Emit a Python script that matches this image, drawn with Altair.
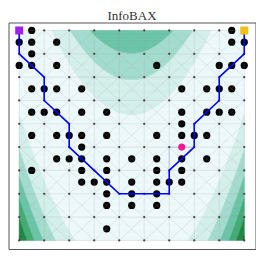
import numpy as np
import pandas as pd
import altair as alt

TITLE = "InfoBAX"
N_NODES = 10                      # 10 x 10 grid graph
X_LIM = (-2.0, 2.0)
Y_LIM = (-1.0, 4.0)

# filled-contour levels of the cost surface and their BuGn band colours
CONTOUR_LEVELS = [400, 800, 1200, 1600, 2000, 2400]
BAND_COLORS = ["#edf8fb", "#d3efeb", "#a0dbcd", "#66c2a4", "#3da96f", "#19823e", "#005b25"]

# queried edges, in half-grid indices (col 0..18 left->right, row 0..18 top->bottom)
QUERY_COLS_BY_ROW = {
    0: [1, 17],
    1: [0, 1, 3, 17, 18],
    2: [1],
    3: [0, 1, 3, 11, 16, 17, 18],
    5: [1, 2, 3, 5, 13, 15, 16, 17],
    7: [1, 2, 3, 5, 7, 13, 15, 16, 17],
    8: [13],
    9: [1, 3, 4, 5, 7, 11, 13, 14, 15],
    10: [5],
    11: [3, 4, 5, 7, 9, 11, 13, 15],
    12: [1, 5, 7, 11, 13],
    13: [5, 6, 7, 9, 11, 12, 13],
    14: [7, 9, 11],
    15: [7, 9, 11],
    17: [7],
}

# estimated shortest path, node indices (col, row from top)
PATH_COLS = [0, 0, 1, 1, 2, 2, 3, 4, 5, 6, 6, 7, 7, 8, 8, 9, 9]
PATH_ROWS = [0, 1, 2, 3, 4, 5, 6, 7, 7, 7, 6, 5, 4, 3, 2, 1, 0]

START_NODE = (0, 0)
GOAL_NODE = (9, 0)
NEXT_QUERY = (13, 10)             # half-grid index
HIGHLIGHT_EDGES = [((6, 5), (7, 5)), ((6, 5), (6, 6))]

START_COLOR = "#a020f0"
GOAL_COLOR = "#f2be1a"
NEXT_COLOR = "#ff1493"
PATH_COLOR = "#0000ff"


def node_x(i):
    return X_LIM[0] + (X_LIM[1] - X_LIM[0]) * i / (N_NODES - 1)


def node_y(j):
    return Y_LIM[1] - (Y_LIM[1] - Y_LIM[0]) * j / (N_NODES - 1)


def cost(x, y):
    return (1 - x) ** 2 + 100 * (y - x ** 2) ** 2


# ---- contour bands (row-wise runs of equal band) ----
NY, NX = 240, 1000
y_edges = np.linspace(Y_LIM[0], Y_LIM[1], NY + 1)
x_edges = np.linspace(X_LIM[0], X_LIM[1], NX + 1)
x_cent = 0.5 * (x_edges[:-1] + x_edges[1:])
rows = []
for k in range(NY):
    yc = 0.5 * (y_edges[k] + y_edges[k + 1])
    band = np.digitize(cost(x_cent, yc), CONTOUR_LEVELS)
    start = 0
    for i in range(1, NX + 1):
        if i == NX or band[i] != band[start]:
            rows.append(dict(x0=x_edges[start], x1=x_edges[i],
                             y0=y_edges[k], y1=y_edges[k + 1], band=int(band[start])))
            start = i
contour_df = pd.DataFrame(rows)

# ---- graph edges ----
edges = []
for i in range(N_NODES):
    for j in range(N_NODES):
        if i + 1 < N_NODES:
            edges.append((i, j, i + 1, j))
        if j + 1 < N_NODES:
            edges.append((i, j, i, j + 1))
        if i + 1 < N_NODES and j + 1 < N_NODES:
            edges.append((i, j, i + 1, j + 1))
            edges.append((i + 1, j, i, j + 1))
edge_df = pd.DataFrame([dict(x=node_x(a), y=node_y(b), x2=node_x(c), y2=node_y(d))
                        for a, b, c, d in edges])

node_df = pd.DataFrame([dict(x=node_x(i), y=node_y(j))
                        for i in range(N_NODES) for j in range(N_NODES)])

query_df = pd.DataFrame([dict(x=node_x(c / 2), y=node_y(r / 2))
                         for r, cols in QUERY_COLS_BY_ROW.items() for c in cols])

path_df = pd.DataFrame(dict(x=[node_x(c) for c in PATH_COLS],
                            y=[node_y(r) for r in PATH_ROWS],
                            k=list(range(len(PATH_COLS)))))

hl_df = pd.DataFrame([dict(x=node_x(a[0]), y=node_y(a[1]), x2=node_x(b[0]), y2=node_y(b[1]))
                      for a, b in HIGHLIGHT_EDGES])

next_df = pd.DataFrame([dict(x=node_x(NEXT_QUERY[0] / 2), y=node_y(NEXT_QUERY[1] / 2))])
start_df = pd.DataFrame([dict(x=node_x(START_NODE[0]), y=node_y(START_NODE[1]))])
goal_df = pd.DataFrame([dict(x=node_x(GOAL_NODE[0]), y=node_y(GOAL_NODE[1]))])

# ---- layout ----
W, H = 247.0, 226.5
xmin, xmax = -2.19, 2.2
ymin, ymax = -1.204, 4.19
xs = alt.Scale(domain=[xmin, xmax], nice=False, zero=False)
ys = alt.Scale(domain=[ymin, ymax], nice=False, zero=False)


def X(f):
    return alt.X(f, type="quantitative", scale=xs, axis=None)


def Y(f):
    return alt.Y(f, type="quantitative", scale=ys, axis=None)


band_scale = alt.Scale(domain=list(range(len(BAND_COLORS))), range=BAND_COLORS)

contour = alt.Chart(contour_df).mark_rect(strokeWidth=0.5).encode(
    x=X("x0"), x2="x1", y=Y("y0"), y2="y1",
    color=alt.Color("band:N", scale=band_scale, legend=None),
    stroke=alt.Stroke("band:N", scale=band_scale, legend=None),
)

queries = alt.Chart(query_df).mark_circle(size=52, color="black", opacity=1).encode(
    x=X("x"), y=Y("y"))

edge_layer = alt.Chart(edge_df).mark_rule(color="#999999", opacity=0.2, strokeWidth=1).encode(
    x=X("x"), y=Y("y"), x2="x2", y2="y2")

nodes = alt.Chart(node_df).mark_circle(size=5, color="#444444", opacity=1).encode(
    x=X("x"), y=Y("y"))

hl = alt.Chart(hl_df).mark_rule(color=PATH_COLOR, opacity=0.2, strokeWidth=1).encode(
    x=X("x"), y=Y("y"), x2="x2", y2="y2")

path = alt.Chart(path_df).mark_line(color=PATH_COLOR, strokeWidth=1.6).encode(
    x=X("x"), y=Y("y"), order="k:Q")

nxt = alt.Chart(next_df).mark_circle(size=50, color=NEXT_COLOR, opacity=1).encode(
    x=X("x"), y=Y("y"))

start = alt.Chart(start_df).mark_square(size=64, color=START_COLOR, opacity=1).encode(
    x=X("x"), y=Y("y"))
goal = alt.Chart(goal_df).mark_square(size=64, color=GOAL_COLOR, opacity=1).encode(
    x=X("x"), y=Y("y"))

chart = alt.layer(contour, queries, edge_layer, nodes, hl, path, nxt, start, goal).properties(
    width=W, height=H,
    title=alt.TitleParams(TITLE, font="Liberation Serif", fontSize=13, fontWeight="normal",
                          color="#333333", offset=0, anchor="middle"),
    autosize=alt.AutoSizeParams(type="none"),
    padding={"left": 0.5, "top": 14.5, "right": 0.5, "bottom": 1},
).configure_view(stroke="#555555", strokeWidth=1).resolve_scale(color="shared")

chart.save("out.html", embed_options={"renderer": "svg", "actions": False})
